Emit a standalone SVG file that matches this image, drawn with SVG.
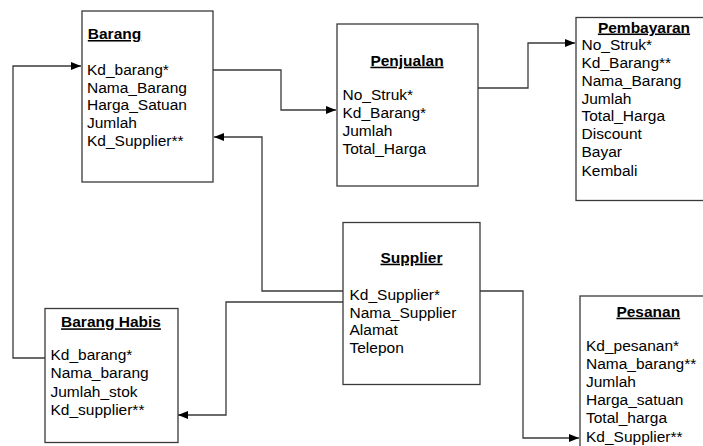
<svg xmlns="http://www.w3.org/2000/svg" width="703" height="446" viewBox="0 0 703 446">
<style>
.box{fill:#fff;stroke:#3a3a3a;stroke-width:1.3}
text{font-family:"Liberation Sans",Arial,sans-serif;font-size:15.5px;fill:#000}
.t{font-weight:bold;text-decoration:underline;text-anchor:middle}
.c{fill:none;stroke:#3a3a3a;stroke-width:1.3}
</style>
<defs>
<marker id="ah" viewBox="0 0 10 8" refX="10" refY="4" markerWidth="10" markerHeight="8" markerUnits="userSpaceOnUse" orient="auto">
<path d="M0,0 L10,4 L0,8 Z" fill="#000"/>
</marker>
</defs>
<rect width="703" height="446" fill="#fff"/>
<g id="connectors">
<polyline class="c" points="213,70 281,70 281,110 336,110" marker-end="url(#ah)"/>
<polyline class="c" points="478,88 528,88 528,43 575,43" marker-end="url(#ah)"/>
<polyline class="c" points="343,291 262,291 262,137 214,137" marker-end="url(#ah)"/>
<polyline class="c" points="343,302 226,302 226,415 178,415" marker-end="url(#ah)"/>
<polyline class="c" points="45,358 13,358 13,66 81,66" marker-end="url(#ah)"/>
<polyline class="c" points="480,291 523,291 523,438 579,438" marker-end="url(#ah)"/>
</g>
<g id="barang">
<rect class="box" x="82" y="11" width="131" height="171"/>
<text class="t" x="114.5" y="39">Barang</text>
<text x="87" y="75">Kd_barang*</text>
<text x="87" y="92.7">Nama_Barang</text>
<text x="87" y="110.3">Harga_Satuan</text>
<text x="87" y="128">Jumlah</text>
<text x="87" y="145.5">Kd_Supplier**</text>
</g>
<g id="penjualan">
<rect class="box" x="337" y="24" width="141" height="162"/>
<text class="t" x="407" y="65.7">Penjualan</text>
<text x="342.5" y="100">No_Struk*</text>
<text x="342.5" y="118">Kd_Barang*</text>
<text x="342.5" y="136">Jumlah</text>
<text x="342.5" y="154">Total_Harga</text>
</g>
<g id="pembayaran">
<rect class="box" x="576" y="17.5" width="140" height="183"/>
<text class="t" x="644" y="32.5">Pembayaran</text>
<text x="581.5" y="49.5">No_Struk*</text>
<text x="581.5" y="67.5">Kd_Barang**</text>
<text x="581.5" y="85.5">Nama_Barang</text>
<text x="581.5" y="103.5">Jumlah</text>
<text x="581.5" y="121.3">Total_Harga</text>
<text x="581.5" y="139.3">Discount</text>
<text x="581.5" y="157.3">Bayar</text>
<text x="581.5" y="175.5">Kembali</text>
</g>
<g id="supplier">
<rect class="box" x="343" y="222.5" width="137" height="162"/>
<text class="t" x="411.5" y="262.7">Supplier</text>
<text x="349.5" y="300">Kd_Supplier*</text>
<text x="349.5" y="317.5">Nama_Supplier</text>
<text x="349.5" y="335">Alamat</text>
<text x="349.5" y="352.5">Telepon</text>
</g>
<g id="barang-habis">
<rect class="box" x="45" y="308.5" width="133" height="134"/>
<text class="t" x="111" y="327.3">Barang Habis</text>
<text x="50.5" y="360">Kd_barang*</text>
<text x="50.5" y="378">Nama_barang</text>
<text x="50.5" y="396.5">Jumlah_stok</text>
<text x="50.5" y="415">Kd_supplier**</text>
</g>
<g id="pesanan">
<rect class="box" x="580" y="296" width="140" height="170"/>
<text class="t" x="648.3" y="316.7">Pesanan</text>
<text x="586" y="350.7">Kd_pesanan*</text>
<text x="586" y="368.5">Nama_barang**</text>
<text x="586" y="386.7">Jumlah</text>
<text x="586" y="405">Harga_satuan</text>
<text x="586" y="423.3">Total_harga</text>
<text x="586" y="441.5">Kd_Supplier**</text>
</g>
</svg>
